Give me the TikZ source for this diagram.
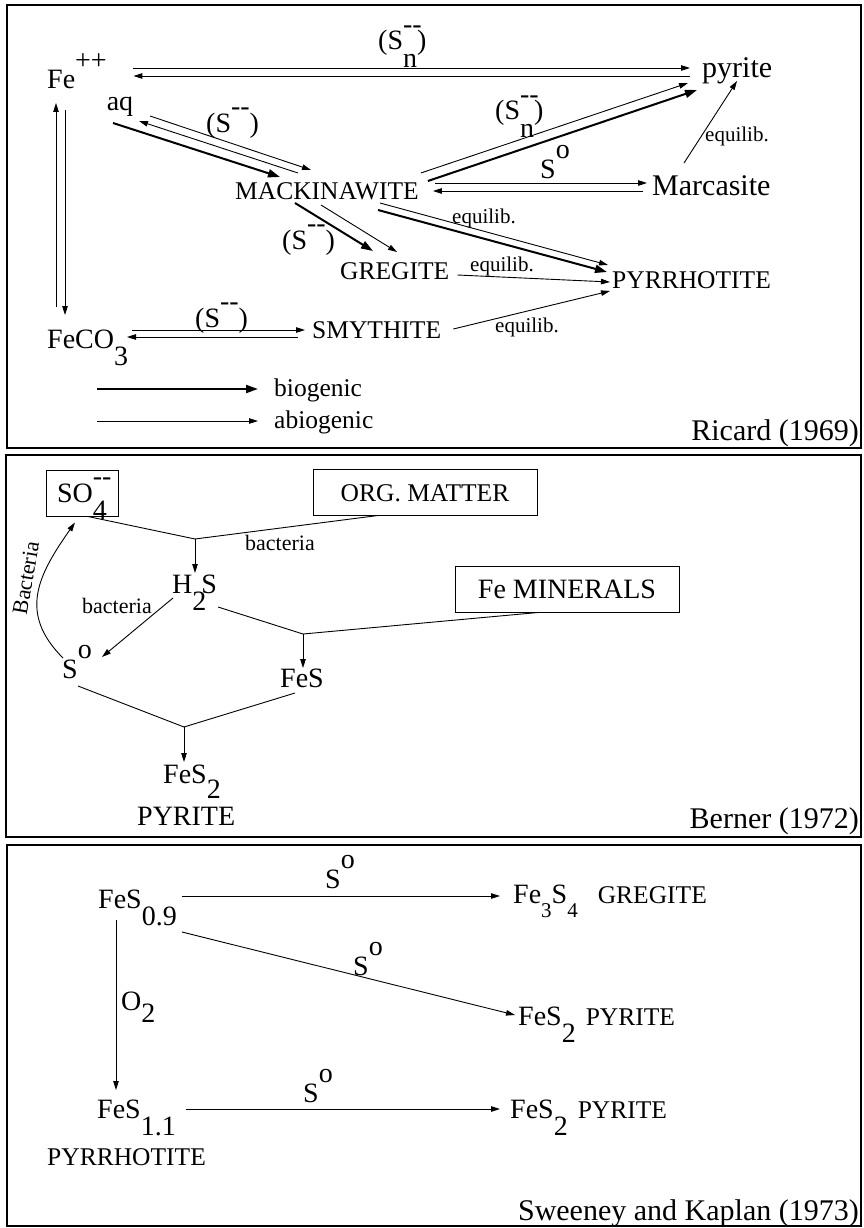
\documentclass[tikz,border=0pt]{standalone}
\usepackage{fontspec}
\setmainfont{Liberation Serif}
\usetikzlibrary{arrows.meta}

% raised / lowered indices, full size as in the figure
\newcommand{\supx}[1]{\raisebox{0.7em}{#1}}
\newcommand{\subx}[1]{\raisebox{-0.62em}{#1}}
\newcommand{\dsh}{\raisebox{0.6em}{-{}-}}
\newcommand{\stk}[1]{\rlap{\raisebox{0.6em}{-{}-}}\raisebox{-0.62em}{#1}}

\begin{document}
\begin{tikzpicture}[
    x=1pt, y=-1pt,
    chem/.style={inner sep=0pt, anchor=base west, font=\fontsize{28}{30}\selectfont},
    minl/.style={chem, font=\fontsize{25.5}{28}\selectfont},
    bigl/.style={chem, font=\fontsize{30}{32}\selectfont},
    ann/.style={chem, font=\fontsize{22}{24}\selectfont},
    eql/.style={chem, font=\fontsize{21}{23}\selectfont},
    boxl/.style={draw, line width=1pt, inner sep=0pt, minimum height=46pt,
                 text height=18.5pt, text depth=0pt, font=\fontsize{28}{30}\selectfont},
    abio/.style={-{Triangle[length=9pt,width=5.5pt]}, line width=0.9pt},
    bio/.style={-{Triangle[length=12pt,width=8pt]}, line width=2pt},
    plainln/.style={line width=0.9pt},
    panel/.style={line width=2.5pt}
]
\useasboundingbox (0,0) rectangle (864,1228);

% panel frames
\draw[panel] (7,5) rectangle (861,448);
\draw[panel] (6,455) rectangle (861,837);
\draw[panel] (7,845) rectangle (861,1226);

%%% Ricard (1969)
\node[chem] (fe) at (47,89) {Fe\supx{++}\raisebox{-0.75em}{aq}};
\node[bigl] (pyrite) at (702,78) {pyrite};
\node[bigl] (marc) at (652,195) {Marcasite};
\node[minl] (mack) at (235,199) {MACKINAWITE};
\node[minl] (greg) at (340,279) {GREGITE};
\node[minl] (pyrr) at (612,288) {PYRRHOTITE};
\node[minl] (smyt) at (312,338) {SMYTHITE};
\node[chem] (feco) at (47,348) {FeCO\subx{3}};
\node[minl] (bio) at (274,396) {biogenic};
\node[minl] (abio) at (274,428) {abiogenic};
\node[bigl, anchor=base east] (ricard) at (859,440) {Ricard (1969)};

% reaction labels
\node[chem] (lsn1) at (378,50) {(S\stk{n})};
\node[chem] (ls1) at (206,132) {(S\dsh)};
\node[chem] (ls2) at (282,249) {(S\dsh)};
\node[chem] (ls3) at (195,327) {(S\dsh)};
\node[chem] (lsn2) at (495,120) {(S\stk{n})};
\node[chem] (lso1) at (540,178) {S\supx{o}};
\node[eql] (leq1) at (705,142) {equilib.};
\node[eql] (leq2) at (452,223) {equilib.};
\node[eql] (leq3) at (470,271) {equilib.};
\node[eql] (leq4) at (495,332) {equilib.};
\coordinate (bioS) at (97,389);
\coordinate (abioS) at (97,421);

% Fe++ <-> pyrite
\draw[abio] ([yshift=21pt]fe.base east) -- ([xshift=-12pt,yshift=10pt]pyrite.base west);
\draw[abio] ([xshift=-12pt,yshift=2pt]pyrite.base west) -- ([yshift=13pt]fe.base east);

% Fe++ <-> mackinawite
\draw[bio] ([xshift=66pt,yshift=-34pt]fe.base west) -- ([xshift=45pt,yshift=22pt]mack.base west);
\draw[abio] ([xshift=103pt,yshift=-27pt]fe.base west) -- ([xshift=76pt,yshift=29pt]mack.base west);
\draw[abio] ([xshift=63pt,yshift=26pt]mack.base west) -- ([xshift=92pt,yshift=-32pt]fe.base west);

% mackinawite -> gregite
\draw[bio] ([xshift=60pt,yshift=-4pt]mack.base west) -- ([xshift=33pt,yshift=28pt]greg.base west);
\draw[abio] ([xshift=86pt,yshift=-6pt]mack.base west) -- ([xshift=57pt,yshift=27pt]greg.base west);

% mackinawite -> pyrite
\draw[abio] ([xshift=2pt,yshift=26pt]mack.base east) -- ([xshift=-14pt,yshift=-5pt]pyrite.base west);
\draw[bio] ([xshift=9pt,yshift=18pt]mack.base east) -- ([xshift=-5pt,yshift=-12pt]pyrite.base west);

% mackinawite <-> marcasite
\draw[abio] ([xshift=16pt,yshift=16pt]mack.base east) -- ([xshift=-5pt,yshift=12pt]marc.base west);
\draw[abio] ([xshift=-9pt,yshift=4pt]marc.base west) -- ([xshift=14pt,yshift=8pt]mack.base east);

% marcasite -> pyrite
\draw[abio] ([xshift=32pt,yshift=32pt]marc.base west) -- ([xshift=35pt,yshift=-3pt]pyrite.base west);

% to pyrrhotite
\draw[abio] ([xshift=145pt,yshift=-4pt]mack.base west) -- ([xshift=-4pt,yshift=23pt]pyrr.base west);
\draw[bio] ([xshift=143pt,yshift=-11pt]mack.base west) -- ([xshift=-5pt,yshift=16pt]pyrr.base west);
\draw[abio] ([xshift=8pt,yshift=4pt]greg.base east) -- ([xshift=-2pt,yshift=6pt]pyrr.base west);
\draw[abio] ([xshift=12pt,yshift=9pt]smyt.base east) -- ([xshift=-2pt,yshift=-3pt]pyrr.base west);

% Fe++ <-> FeCO3
\draw[abio] ([xshift=9pt,yshift=41pt]feco.base west) -- ([xshift=9pt,yshift=-14pt]fe.base west);
\draw[abio] ([xshift=18pt,yshift=-21pt]fe.base west) -- ([xshift=18pt,yshift=33pt]feco.base west);

% FeCO3 <-> smythite
\draw[abio] ([xshift=85pt,yshift=18pt]feco.base west) -- ([xshift=-7pt,yshift=8pt]smyt.base west);
\draw[abio] ([xshift=-14pt,yshift=1pt]smyt.base west) -- ([xshift=80pt,yshift=11pt]feco.base west);

% legend
\draw[bio] (bioS) -- ([xshift=-16pt,yshift=7pt]bio.base west);
\draw[abio] (abioS) -- ([xshift=-16pt,yshift=7pt]abio.base west);

%%% Berner (1972)
\node[boxl, minimum width=72pt] (so4) at (82,493) {SO\stk{4}};
\node[boxl, minimum width=224pt, font=\fontsize{25.5}{28}\selectfont] (org) at (425,492) {ORG. MATTER};
\node[boxl, minimum width=224pt] (femin) at (567,589) {Fe MINERALS};
\node[chem] (h2s) at (172,593) {H\rlap{\subx{2}}\kern9pt S};
\node[chem] (so) at (62,678) {S\supx{o}};
\node[chem] (fes) at (280,687) {FeS};
\node[chem] (fes2) at (163,783) {FeS\raisebox{-0.55em}{2}};
\node[chem] (pyr2) at (137,825) {PYRITE};
\node[ann] (lbac1) at (245,550) {bacteria};
\node[ann] (lbac2) at (82,613) {bacteria};
\node[ann, anchor=center, rotate=80] (lbac3) at (26,578) {Bacteria};
\node[bigl, anchor=base east] (berner) at (859,828) {Berner (1972)};
\coordinate (j1) at (195,539);
\coordinate (j2) at (303,634);
\coordinate (j3) at (184,727);

\draw[plainln] ([xshift=6pt]so4.south) -- (j1);
\draw[plainln] ([xshift=-47pt]org.south) -- (j1);
\draw[abio] (j1) -- ([xshift=23pt,yshift=20pt]h2s.base west);
\draw[abio] ([xshift=1pt,yshift=-5pt]h2s.base west) -- ([xshift=40pt,yshift=21pt]so.base west);
\draw[plainln] ([xshift=46pt,yshift=-14pt]h2s.base west) -- (j2);
\draw[plainln] ([xshift=-29pt]femin.south) -- (j2);
\draw[abio] (j2) -- ([xshift=23pt,yshift=19pt]fes.base west);
\draw[plainln] ([xshift=16pt,yshift=-8pt]so.base west) -- (j3);
\draw[plainln] ([xshift=15pt,yshift=-6pt]fes.base west) -- (j3);
\draw[abio] (j3) -- ([xshift=21pt,yshift=21pt]fes2.base west);
\draw[abio] ([xshift=1pt,yshift=20pt]so.base west) to[out=135, in=-125, looseness=1.2] ([xshift=-7pt,yshift=-6pt]so4.south);

%%% Sweeney and Kaplan (1973)
\node[chem] (fes09) at (98,908) {FeS\subx{0.9}};
\node[chem] (fe3s4) at (513,903) {Fe\raisebox{-0.5em}{\fontsize{21}{21}\selectfont 3}S\raisebox{-0.5em}{\fontsize{21}{21}\selectfont 4}\hspace{20pt}{\fontsize{25.5}{28}\selectfont GREGITE}};
\node[chem] (fes2a) at (518,1025) {FeS\subx{2}\hspace{10pt}{\fontsize{25.5}{28}\selectfont PYRITE}};
\node[chem] (fes11) at (97,1118) {FeS\subx{1.1}};
\node[chem] (fes2b) at (510,1118) {FeS\subx{2}\hspace{10pt}{\fontsize{25.5}{28}\selectfont PYRITE}};
\node[minl] (pyrr3) at (47,1165) {PYRRHOTITE};
\node[chem] (lo2) at (121,1010) {O\raisebox{-0.45em}{2}};
\node[chem] (lso2) at (325,888) {S\supx{o}};
\node[chem] (lso3) at (353,975) {S\supx{o}};
\node[chem] (lso4) at (303,1102) {S\supx{o}};
\node[bigl, anchor=base east] (sweeney) at (859,1220) {Sweeney and Kaplan (1973)};

\draw[abio] ([xshift=84pt,yshift=12pt]fes09.base west) -- ([xshift=-13pt,yshift=7pt]fe3s4.base west);
\draw[abio] ([xshift=84pt,yshift=-24pt]fes09.base west) -- ([xshift=-3pt,yshift=10pt]fes2a.base west);
\draw[abio] ([xshift=18pt,yshift=-12pt]fes09.base west) -- ([xshift=19pt,yshift=28pt]fes11.base west);
\draw[abio] ([xshift=89pt,yshift=9pt]fes11.base west) -- ([xshift=-10pt,yshift=9pt]fes2b.base west);

\end{tikzpicture}
\end{document}
